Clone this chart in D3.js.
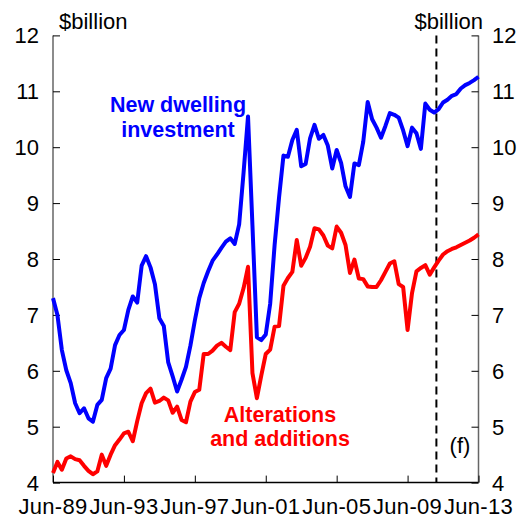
<!DOCTYPE html>
<html><head><meta charset="utf-8">
<script src="https://cdn.jsdelivr.net/npm/d3@7"></script>
<style>body{margin:0;background:#fff}svg{display:block}text{font-family:"Liberation Sans",Arial,sans-serif}</style>
</head><body><div id="chart"></div>
<script>
// Quarterly, Jun-89 .. Jun-13 (index 0..96)
const xTickLabels = ["Jun-89","Jun-93","Jun-97","Jun-01","Jun-05","Jun-09","Jun-13"];
const xTickIndex = [0,16,32,48,64,80,96];
const yTicks = [4,5,6,7,8,9,10,11,12];
const forecastStart = 86.5;
const newDwelling = [7.30,7.00,6.37,6.01,5.78,5.42,5.24,5.33,5.15,5.09,5.39,5.48,5.87,6.04,6.46,6.64,6.73,7.09,7.33,7.22,
7.88,8.05,7.85,7.55,6.94,6.80,6.15,5.90,5.63,5.84,6.07,6.45,6.90,7.30,7.57,7.78,7.97,8.08,8.20,8.31,
8.37,8.27,8.62,9.55,10.55,8.60,6.60,6.55,6.65,7.20,8.25,9.10,9.85,9.83,10.13,10.31,9.66,9.70,10.16,10.40,
10.15,10.22,10.03,9.62,9.95,9.72,9.30,9.11,9.71,9.68,10.10,10.81,10.50,10.35,10.17,10.38,10.61,10.58,10.53,10.30,
10.02,10.35,10.25,9.97,10.78,10.67,10.62,10.68,10.80,10.85,10.92,10.95,11.05,11.11,11.15,11.20,11.26];
const alterations = [4.17,4.37,4.23,4.43,4.47,4.42,4.40,4.30,4.21,4.15,4.20,4.50,4.30,4.50,4.67,4.77,4.88,4.91,4.74,5.10,
5.42,5.60,5.68,5.43,5.46,5.52,5.47,5.25,5.36,5.12,5.08,5.45,5.62,5.66,6.30,6.30,6.36,6.45,6.50,6.43,
6.37,7.05,7.20,7.48,7.86,5.96,5.51,5.92,6.30,6.38,6.79,6.80,7.52,7.66,7.77,8.34,7.88,8.02,8.22,8.55,
8.53,8.42,8.24,8.19,8.58,8.47,8.25,7.75,7.99,7.65,7.64,7.51,7.50,7.50,7.62,7.77,7.92,7.96,7.55,7.50,
6.73,7.39,7.78,7.84,7.89,7.72,7.85,7.97,8.08,8.14,8.18,8.21,8.25,8.29,8.33,8.38,8.44];

const W = 525, H = 518;
const m = {left: 53, right: 46.5, top: 35.4, bottom: 35.4};
const svg = d3.select("#chart").append("svg").attr("width", W).attr("height", H);
const x = d3.scaleLinear().domain([0, 96]).range([m.left, W - m.right]);
const y = d3.scaleLinear().domain([4, 12]).range([H - m.bottom, m.top]);
const fs = 22;

// left axis
const gl = svg.append("g").attr("transform", `translate(${x(0)},0)`)
  .call(d3.axisRight(y).tickValues(yTicks).tickSize(7).tickFormat(""));
gl.select(".domain").attr("stroke", "#666").attr("stroke-width", 1.5).attr("d", `M0,${y(12)}V${y(4)}`);
gl.selectAll(".tick line").attr("stroke", "#000").attr("stroke-width", 1);
const gr = svg.append("g").attr("transform", `translate(${x(96)},0)`)
  .call(d3.axisLeft(y).tickValues(yTicks).tickSize(7).tickFormat(""));
gr.select(".domain").attr("stroke", "#666").attr("stroke-width", 1.5).attr("d", `M0,${y(12)}V${y(4)}`);
gr.selectAll(".tick line").attr("stroke", "#000").attr("stroke-width", 1);

// y labels
svg.append("g").selectAll("text").data(yTicks).join("text")
  .attr("x", 39).attr("y", d => y(d)).attr("dy", "0.36em").attr("text-anchor", "end")
  .attr("font-size", fs).text(d => d);
svg.append("g").selectAll("text").data(yTicks).join("text")
  .attr("x", 492).attr("y", d => y(d)).attr("dy", "0.36em").attr("text-anchor", "start")
  .attr("font-size", fs).text(d => d);

// bottom axis
const gb = svg.append("g").attr("transform", `translate(0,${y(4)})`)
  .call(d3.axisTop(x).tickValues(xTickIndex).tickSize(7).tickFormat(""));
gb.select(".domain").attr("stroke", "#000").attr("stroke-width", 1.5).attr("d", `M${x(0)},0H${x(96)}`);
gb.selectAll(".tick line").attr("stroke", "#000");
svg.append("g").selectAll("text").data(xTickIndex).join("text")
  .attr("x", d => x(d)).attr("y", 514).attr("text-anchor", "middle")
  .attr("font-size", fs).attr("letter-spacing", 0.3).text((d, i) => xTickLabels[i]);

// unit labels
svg.append("text").attr("x", 59).attr("y", 29).attr("font-size", fs).text("$billion");
svg.append("text").attr("x", 483).attr("y", 29).attr("text-anchor", "end").attr("font-size", fs).text("$billion");

// forecast line
svg.append("line").attr("x1", x(forecastStart)).attr("x2", x(forecastStart))
  .attr("y1", y(12)).attr("y2", y(4)).attr("stroke", "#000").attr("stroke-width", 2)
  .attr("stroke-dasharray", "8,5");
svg.append("text").attr("x", 460).attr("y", 453).attr("text-anchor", "middle").attr("font-size", fs).text("(f)");

// lines
const line = d3.line().x((d, i) => x(i)).y(d => y(d));
svg.append("path").datum(alterations).attr("d", line).attr("fill", "none")
  .attr("stroke", "#ff0000").attr("stroke-width", 4).attr("stroke-linejoin", "round");
svg.append("path").datum(newDwelling).attr("d", line).attr("fill", "none")
  .attr("stroke", "#0000ff").attr("stroke-width", 4).attr("stroke-linejoin", "round");

// series labels (separate text per line)
const lab = (t, cx, ys, col) => {
  t.forEach((s, i) => svg.append("text").attr("text-anchor", "middle").attr("font-size", 21.5)
    .attr("font-weight", "bold").attr("fill", col).attr("x", cx).attr("y", ys[i]).text(s));
};
lab(["New dwelling", "investment"], 178, [112, 136.5], "#0000ff");
lab(["Alterations", "and additions"], 280, [421.5, 445.5], "#ff0000");
</script></body></html>
